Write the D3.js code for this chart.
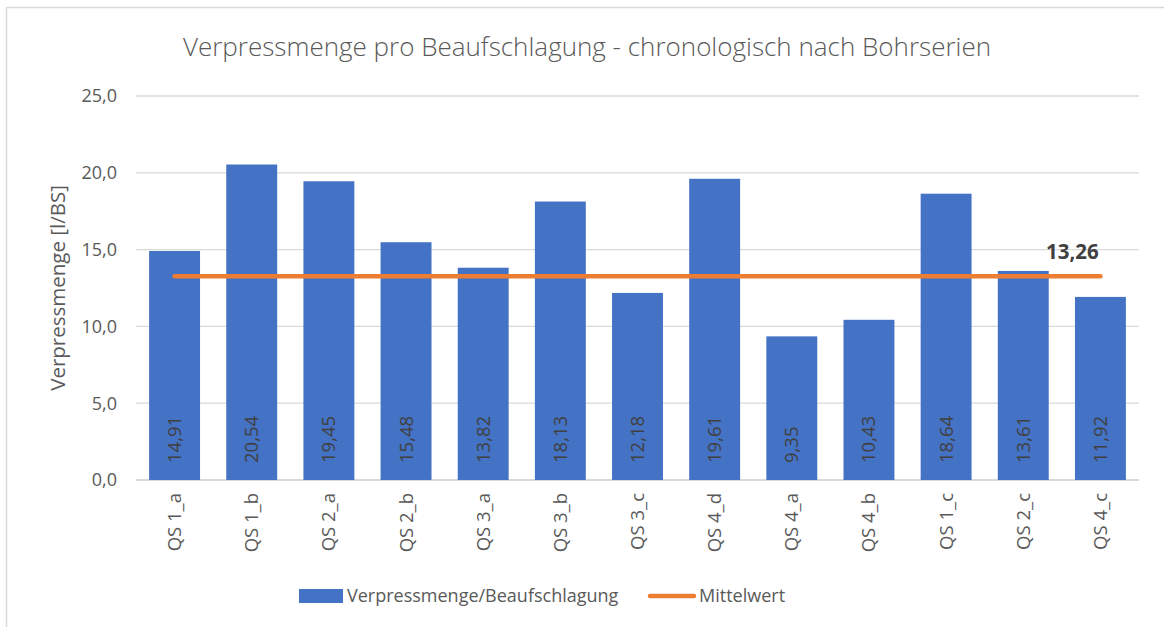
<!DOCTYPE html>
<html>
<head>
<meta charset="utf-8">
<script src="https://cdn.jsdelivr.net/npm/d3@7"></script>
<style>
  body { margin: 0; background: #fff; }
  svg text { font-family: "Open Sans", "DejaVu Sans", sans-serif; }
</style>
</head>
<body>
<div id="chart"></div>
<script>
// chart data
var categories = ["QS 1_a", "QS 1_b", "QS 2_a", "QS 2_b", "QS 3_a", "QS 3_b", "QS 3_c",
                  "QS 4_d", "QS 4_a", "QS 4_b", "QS 1_c", "QS 2_c", "QS 4_c"];
var values = [14.91, 20.54, 19.45, 15.48, 13.82, 18.13, 12.18, 19.61, 9.35, 10.43, 18.64, 13.61, 11.92];
var meanValue = 13.26;
var yTicks = [0, 5, 10, 15, 20, 25];

var W = 1164, H = 627;
var margin = {top: 96, right: 25, bottom: 147, left: 136};

var fmt = function(v, n) { return v.toFixed(n).replace(".", ","); };

var svg = d3.select("#chart").append("svg")
    .attr("width", W)
    .attr("height", H);

// frame (only left and top edge visible in the picture)
svg.append("line").attr("x1", 6.5).attr("x2", 6.5).attr("y1", 7.5).attr("y2", H)
    .attr("stroke", "#d9d9d9").attr("stroke-width", 1.5);
svg.append("line").attr("x1", 6.5).attr("x2", W).attr("y1", 7.5).attr("y2", 7.5)
    .attr("stroke", "#d9d9d9").attr("stroke-width", 1.5);

var x = d3.scaleBand()
    .domain(categories)
    .range([margin.left, W - margin.right])
    .paddingInner(0.34)
    .paddingOuter(0.17);

var y = d3.scaleLinear()
    .domain([0, 25])
    .range([H - margin.bottom, margin.top]);

// gridlines
svg.append("g").selectAll("line")
    .data(yTicks)
    .enter().append("line")
    .attr("x1", margin.left)
    .attr("x2", W - margin.right)
    .attr("y1", function(d) { return y(d); })
    .attr("y2", function(d) { return y(d); })
    .attr("stroke", "#d9d9d9")
    .attr("stroke-width", function(d) { return d === 0 ? 2 : 1.3; });

// y tick labels
svg.append("g").selectAll("text")
    .data(yTicks)
    .enter().append("text")
    .attr("x", 117)
    .attr("y", function(d) { return y(d); })
    .attr("dy", "0.35em")
    .attr("text-anchor", "end")
    .attr("fill", "#595959")
    .style("font-size", "18px")
    .text(function(d) { return fmt(d, 1); });

// y axis title
svg.append("text")
    .attr("transform", "translate(65," + y(12.5) + ") rotate(-90)")
    .attr("text-anchor", "middle")
    .attr("fill", "#595959")
    .style("font-size", "20.5px")
    .text("Verpressmenge [l/BS]");

// title
svg.append("text")
    .attr("x", 587)
    .attr("y", 56)
    .attr("text-anchor", "middle")
    .attr("fill", "#595959")
    .style("font-size", "26px")
    .style("font-weight", 300)
    .text("Verpressmenge pro Beaufschlagung - chronologisch nach Bohrserien");

// bars
svg.append("g").selectAll("rect")
    .data(values)
    .enter().append("rect")
    .attr("x", function(d, i) { return x(categories[i]); })
    .attr("width", x.bandwidth())
    .attr("y", function(d) { return y(d); })
    .attr("height", function(d) { return y(0) - y(d); })
    .attr("fill", "#4472c4");

// bar value labels
svg.append("g").selectAll("text")
    .data(values)
    .enter().append("text")
    .attr("transform", function(d, i) {
        return "translate(" + (x(categories[i]) + x.bandwidth() / 2) + "," + (y(0) - 17) + ") rotate(-90)";
    })
    .attr("dy", "0.35em")
    .attr("text-anchor", "start")
    .attr("fill", "#404040")
    .style("font-size", "18.5px")
    .text(function(d) { return fmt(d, 2); });

// x category labels
svg.append("g").selectAll("text")
    .data(categories)
    .enter().append("text")
    .attr("transform", function(d) {
        return "translate(" + (x(d) + x.bandwidth() / 2) + "," + (y(0) + 13) + ") rotate(-90)";
    })
    .attr("dy", "0.35em")
    .attr("text-anchor", "end")
    .attr("fill", "#595959")
    .style("font-size", "18.5px")
    .text(function(d) { return d; });

// mean line
var first = categories[0], last = categories[categories.length - 1];
svg.append("line")
    .attr("x1", x(first) + x.bandwidth() / 2)
    .attr("x2", x(last) + x.bandwidth() / 2)
    .attr("y1", y(meanValue))
    .attr("y2", y(meanValue))
    .attr("stroke", "#ed7d31")
    .attr("stroke-width", 4.5)
    .attr("stroke-linecap", "round");

svg.append("text")
    .attr("x", x(last) + x.bandwidth() / 2 - 28)
    .attr("y", y(meanValue) - 17)
    .attr("text-anchor", "middle")
    .attr("fill", "#404040")
    .style("font-size", "20.5px")
    .style("font-weight", "bold")
    .text(fmt(meanValue, 2));

// legend
var lg = svg.append("g");
lg.append("rect").attr("x", 299).attr("y", 589).attr("width", 44).attr("height", 14).attr("fill", "#4472c4");
lg.append("text").attr("x", 347).attr("y", 596).attr("dy", "0.35em")
    .attr("fill", "#595959").style("font-size", "18px").text("Verpressmenge/Beaufschlagung");
lg.append("line").attr("x1", 650).attr("x2", 694).attr("y1", 596).attr("y2", 596)
    .attr("stroke", "#ed7d31").attr("stroke-width", 4.5).attr("stroke-linecap", "round");
lg.append("text").attr("x", 699).attr("y", 596).attr("dy", "0.35em")
    .attr("fill", "#595959").style("font-size", "18px").text("Mittelwert");
</script>
</body>
</html>
